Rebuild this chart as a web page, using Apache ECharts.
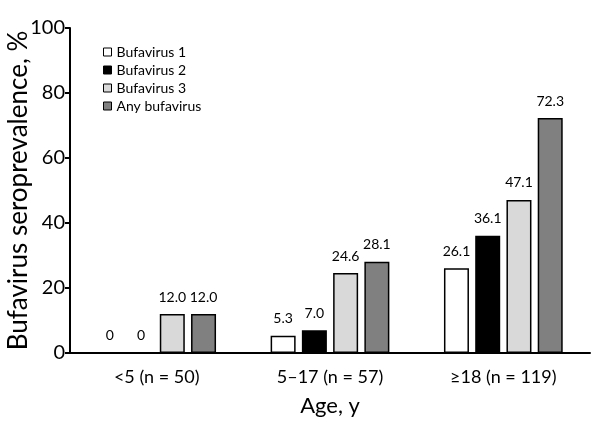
<!DOCTYPE html>
<html>
<head>
<meta charset="utf-8">
<script src="https://cdn.jsdelivr.net/npm/echarts@6/dist/echarts.min.js"></script>
<style>html,body{margin:0;padding:0;background:#fff}#c{width:600px;height:423px}</style>
</head>
<body>
<div id="c"></div>
<script>
var categories = ['<5 (n = 50)', '5–17 (n = 57)', '≥18 (n = 119)'];
var seriesNames = ['Bufavirus 1', 'Bufavirus 2', 'Bufavirus 3', 'Any bufavirus'];
var bufa1 = [0, 5.3, 26.1];
var bufa2 = [0, 7.0, 36.1];
var bufa3 = [12.0, 24.6, 47.1];
var anyBufa = [12.0, 28.1, 72.3];
var yTicks = [0, 20, 40, 60, 80, 100];

var colors = ['#ffffff', '#000000', '#d9d9d9', '#808080'];
var values = [bufa1, bufa2, bufa3, anyBufa];
var font = 'Lato, "Open Sans", sans-serif';

var series = seriesNames.map(function (n, i) {
  return {
    name: n,
    type: 'bar',
    data: values[i],
    barWidth: 25,
    barGap: '25%',
    itemStyle: { color: colors[i], borderColor: '#000', borderWidth: 1.5 },
    label: {
      show: true, position: 'top', distance: 10,
      formatter: function (p) { return p.value === 0 ? '0' : p.value.toFixed(1); },
      color: '#000', fontSize: 14, fontFamily: font
    }
  };
});

var chart = echarts.init(document.getElementById('c'), null, { renderer: 'canvas' });
chart.setOption({
  animation: false,
  grid: { left: 70, right: 10, top: 28, bottom: 70, containLabel: false, outerBoundsMode: 'none' },
  legend: {
    orient: 'vertical', left: 98, top: 40,
    itemWidth: 8, itemHeight: 8, itemGap: 4,
    icon: 'rect',
    textStyle: { fontSize: 14, fontFamily: font, color: '#000' },
    data: seriesNames.map(function (n, i) {
      return { name: n, itemStyle: { color: colors[i], borderColor: '#000', borderWidth: 1 } };
    })
  },
  xAxis: {
    type: 'category', data: categories,
    name: 'Age, y', nameLocation: 'middle', nameGap: 42, nameMoveOverlap: false,
    nameTextStyle: { fontSize: 22, fontFamily: font, color: '#000' },
    axisLine: { lineStyle: { color: '#000', width: 2 } },
    axisTick: { show: false },
    axisLabel: { fontSize: 18, fontFamily: font, color: '#000', margin: 15 }
  },
  yAxis: {
    type: 'value', min: yTicks[0], max: yTicks[yTicks.length - 1], interval: 20,
    name: 'Bufavirus seroprevalence, %', nameLocation: 'middle', nameGap: 38, nameMoveOverlap: false,
    nameTextStyle: { fontSize: 26, fontFamily: font, color: '#000' },
    axisLine: { show: true, lineStyle: { color: '#000', width: 2 } },
    axisTick: { show: true, length: 5, lineStyle: { color: '#000', width: 2 } },
    axisLabel: { fontSize: 20, fontFamily: font, color: '#000', margin: 5 },
    splitLine: { show: false }
  },
  series: series
});
</script>
</body>
</html>
